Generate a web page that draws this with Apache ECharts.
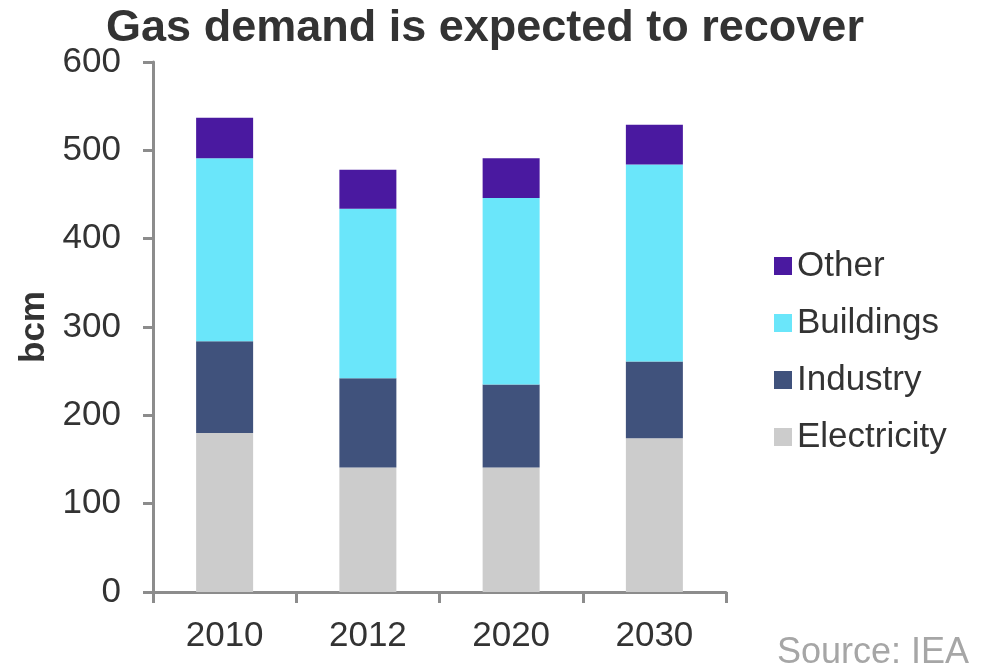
<!DOCTYPE html>
<html>
<head>
<meta charset="utf-8">
<script src="https://cdn.jsdelivr.net/npm/echarts@6/dist/echarts.min.js"></script>
<style>
  html, body { margin: 0; padding: 0; background: #fff; }
  #chart { width: 986px; height: 666px; }
</style>
</head>
<body>
<div id="chart"></div>
<script>
// Gas demand by sector, bcm
const years = ['2010', '2012', '2020', '2030'];
const electricity = [180, 141, 141, 174];
const industry = [104, 101, 94, 87];
const buildings = [207, 192, 211, 223];
const other = [46, 44, 45, 45];
const yTicks = { min: 0, max: 600, interval: 100 };

const FONT = '"Liberation Sans", Arial, sans-serif';
const AXIS_GREY = '#8c8c8c';
const TEXT = '#333333';

const seriesDefs = [
  { name: 'Electricity', data: electricity, color: '#cccccc' },
  { name: 'Industry', data: industry, color: '#40527c' },
  { name: 'Buildings', data: buildings, color: '#6ae6fa' },
  { name: 'Other', data: other, color: '#4a19a0' }
];

const chart = echarts.init(document.getElementById('chart'), null, { renderer: 'canvas' });

chart.setOption({
  animation: false,
  backgroundColor: '#ffffff',
  textStyle: { fontFamily: FONT },
  title: [
    {
      text: 'Gas demand is expected to recover',
      left: 480, top: 1, textAlign: 'center',
      textStyle: { fontFamily: FONT, fontSize: 45, fontWeight: 'bold', color: TEXT }
    },
    {
      text: 'Source: IEA',
      right: 12, top: 630,
      textStyle: { fontFamily: FONT, fontSize: 36, fontWeight: 'normal', color: '#a6a6a6' }
    }
  ],
  legend: {
    orient: 'vertical',
    left: 774, top: 247,
    padding: 0,
    data: ['Other', 'Buildings', 'Industry', 'Electricity'],
    icon: 'rect',
    itemWidth: 18, itemHeight: 18,
    itemGap: 19, itemTextGap: 15,
    textStyle: { fontFamily: FONT, fontSize: 35, color: TEXT, lineHeight: 38 }
  },
  grid: { left: 153, right: 260, top: 62, bottom: 74, containLabel: false },
  xAxis: {
    type: 'category',
    data: years,
    axisLine: { show: true, lineStyle: { color: AXIS_GREY, width: 3 } },
    axisTick: { show: true, alignWithLabel: false, length: 11, lineStyle: { color: AXIS_GREY, width: 3 } },
    axisLabel: { fontFamily: FONT, fontSize: 35, color: TEXT, margin: 27 }
  },
  yAxis: {
    type: 'value',
    min: yTicks.min, max: yTicks.max, interval: yTicks.interval,
    name: 'bcm',
    nameLocation: 'middle',
    nameGap: 99,
    nameRotate: 90,
    nameTextStyle: { fontFamily: FONT, fontSize: 35, fontWeight: 'bold', color: TEXT },
    splitLine: { show: false },
    axisLine: { show: true, lineStyle: { color: AXIS_GREY, width: 3 } },
    axisTick: { show: true, length: 10, lineStyle: { color: AXIS_GREY, width: 3 } },
    axisLabel: { fontFamily: FONT, fontSize: 35, color: TEXT, margin: 32 }
  },
  series: seriesDefs.map(s => ({
    name: s.name,
    type: 'bar',
    stack: 'demand',
    barWidth: 57,
    data: s.data,
    itemStyle: { color: s.color }
  }))
});
</script>
</body>
</html>
